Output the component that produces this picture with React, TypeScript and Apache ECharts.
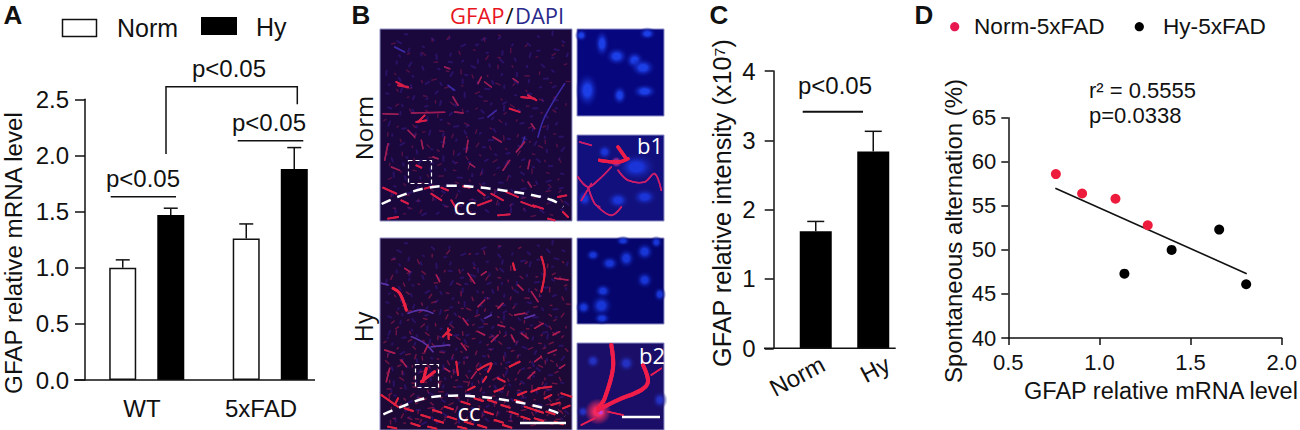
import React, { useEffect, useRef } from "react";
import * as echarts from "echarts";

// Panel A
const groupsA = ["WT", "5xFAD"];
const normA = [1.0, 1.26];
const hyA = [1.47, 1.88];
const normATop = [1.07, 1.39];
const hyATop = [1.53, 2.07];
const ticksA = [0, 0.5, 1, 1.5, 2, 2.5];
// Panel C
const groupsC = ["Norm", "Hy"];
const valuesC = [1.69, 2.84];
const topsC = [1.83, 3.13];
// Panel D
const normD = [[0.761, 58.6], [0.905, 56.4], [1.088, 55.8], [1.265, 52.8]];
const hyD = [[1.137, 47.3], [1.396, 50], [1.657, 52.3], [1.805, 46.1]];
const fitD = [[0.758, 57], [1.808, 47.3]];

const SANS = '"Liberation Sans", Arial, sans-serif';
const OPEN = '"Open Sans", sans-serif';

const txt = (text: string, x: number, y: number, size: number, o: any = {}) => ({
  type: "text",
  x,
  y,
  rotation: o.rotation || 0,
  silent: true,
  z: 20,
  style: {
    text,
    x: 0,
    y: 0,
    fill: o.fill || "#111",
    font: `${o.weight || "normal"} ${size}px ${o.family || SANS}`,
    textAlign: o.align || "center",
    textVerticalAlign: "middle",
  },
});
const ln = (pts: number[][], w = 1.5, color = "#111", extra: any = {}) => ({
  type: "polyline",
  silent: true,
  z: extra.z || 20,
  shape: { points: pts, smooth: extra.smooth || 0 },
  style: {
    stroke: color, lineWidth: w, fill: "none", lineDash: extra.dash, lineCap: extra.cap || "butt",
    opacity: extra.opacity ?? 1,
    ...(extra.blur ? { shadowBlur: extra.blur, shadowColor: color } : {}),
  },
});
const box = (x: number, y: number, w: number, h: number, fill: string, stroke = "#8f8fc8") => ({
  type: "rect",
  silent: true,
  z: 10,
  shape: { x, y, width: w, height: h },
  style: { fill, stroke, lineWidth: 1 },
});

// Micrograph illustration: hand-traced strokes, in 3x crop coordinates of each photo row
const toPx = (ox: number, oy: number, flat: number[]) => {
  const out: number[][] = [];
  for (let i = 0; i < flat.length; i += 2) out.push([ox + flat[i] / 3, oy + flat[i + 1] / 3]);
  return out;
};
const strokes = (ox: number, oy: number, list: number[][], w: number, color: string, opacity = 1, blur = 1.5) =>
  list.map((s) => ({ ...ln(toPx(ox, oy, s), w, color, { z: 12, cap: "round", smooth: s.length > 4 ? 0.35 : 0, opacity, blur }) }));
const nuclei = (ox: number, oy: number, list: number[][], core: string, bg: string) =>
  list.map(([x, y, rx, ry]) => ({
    type: "ellipse",
    silent: true,
    z: 11,
    shape: { cx: ox + x / 3, cy: oy + y / 3, rx: (rx / 3) * 2, ry: (ry / 3) * 2 },
    style: {
      fill: {
        type: "radial", x: 0.5, y: 0.5, r: 0.5,
        colorStops: [{ offset: 0, color: core }, { offset: 0.3, color: core }, { offset: 1, color: bg + "00" }],
      },
    },
  }));
// Faint tissue texture of the photos (decoration only, evenly spread low-discrepancy specks)
const specks = (x0: number, y0: number, w: number, h: number, n: number, bias: number, color: string, width: number, opacity: number, seed = 0) => {
  const out: any[] = [];
  for (let i = 1; i <= n; i++) {
    const u = (seed + i * 0.7548777) % 1;
    const v = Math.pow((seed + i * 0.5698403) % 1, bias);
    const a = i * i * 0.3719;
    const l = 1.5 + ((i * 7) % 4);
    const x = x0 + 5 + u * (w - 10);
    const y = y0 + 5 + v * (h - 10);
    out.push(ln([[x, y], [x + Math.cos(a) * l, y + Math.sin(a) * l]], width, color, { z: 11, cap: "round", opacity }));
  }
  return out;
};

const topStrong = [
  [60,175,90,180],[55,165,75,175],[430,210,470,215],[450,205,475,220],[120,285,140,265],[115,285,145,280],
  [395,245,425,255],[15,482,55,500],[140,485,165,478],[190,482,210,490],[255,478,275,482],[340,500,375,520],
  [300,535,340,520],[430,525,470,540],[465,535,495,545],[510,575,530,580],[540,510,565,505],[70,520,90,530],
  [360,565,395,562],[385,495,420,510],[160,500,190,520],[300,490,320,505],[220,520,235,545],[555,555,570,570],
  [115,415,130,422],[30,575,60,570],
];
const topFaint = [
  [260,185,290,185],[320,165,340,180],[345,330,370,345],[440,345,415,375],[270,340,265,375],[200,330,195,360],
  [90,310,110,330],[30,350,20,400],[225,210,240,235],[130,340,135,365],[460,290,470,305],[320,430,360,430],
  [375,430,395,400],[275,410,290,420],[450,465,460,480],[455,400,450,425],[230,255,255,258],[15,260,60,262],
  [100,258,200,256],[300,170,310,150],[405,155,420,165],[200,120,215,125],[40,420,65,430],[165,390,180,395],
];
const topBlue = [[480,330,500,270,560,170],[330,270,355,250],[210,175,230,190],[50,60,80,75],[135,565,200,565],[430,360,440,330]];
const botStrong = [
  [235,380,240,420],[300,405,340,385,330,410],[395,395,425,380],[315,440,325,425],[360,430,380,440],[480,460,520,455],
  [550,475,580,485],[10,480,60,515],[60,490,50,510],[490,65,500,110,490,170],[405,85,410,105],
  [205,295,220,300],[195,305,215,285],[210,280,212,312],
  [165,525,190,533],[200,515,225,523],[250,500,275,508],[290,490,315,498],[330,495,355,503],[370,510,395,518],
  [410,495,435,503],[440,515,465,523],[470,525,495,533],[130,540,155,548],[170,555,195,563],[210,545,235,553],
  [260,560,285,568],[320,530,345,538],[350,555,375,563],[395,530,420,538],[430,545,455,553],[470,550,495,558],
  [505,530,530,538],[530,560,555,568],[80,520,105,528],[100,565,125,573],[30,575,55,580],[150,575,175,581],
  [240,575,265,581],[300,570,325,578],[375,570,400,578],[420,480,445,470],[460,470,485,460],[500,490,520,480],
  [520,510,545,503],[555,520,575,512],[350,470,375,460],[270,465,290,455],
];
const botFaint = [
  [270,115,290,145],[300,215,320,195],[255,250,270,270],[360,270,380,275],[410,240,440,235],[300,290,320,300],
  [340,320,360,300],[410,320,400,300],[530,130,570,135],[460,170,480,200],[290,345,310,345],[200,400,215,410],
  [450,430,470,410],[545,400,560,390],[20,345,50,355],[35,400,25,440],[70,375,85,395],[140,350,150,330],
  [250,325,265,345],[470,280,495,265],[525,300,545,290],[510,355,535,345],[430,295,450,310],[360,220,375,205],
  [310,120,325,110],[175,120,185,140],[420,150,435,165],[80,100,95,110],[470,380,490,365],[280,430,295,410],
];
const botBlue = [[90,235,130,225,165,235],[100,305,140,325,165,350],[160,335,215,330],[10,145,30,150],[320,250,340,240],[440,250,470,240]];

const picture = (): any[] => [
  box(380, 29, 192, 192, "#1a083c"),
  box(577, 29, 87, 87, "#06067e"),
  box(577, 135, 87, 86, "#12107c"),
  box(380, 238, 192, 192, "#1c0936"),
  box(577, 238, 87, 86, "#05056c"),
  box(577, 343, 87, 87, "#1a0e68"),
  ...specks(380, 29, 192, 192, 200, 1, "#3a1a90", 2, 0.5),
  ...specks(380, 29, 192, 192, 160, 0.8, "#86184e", 1.4, 0.55, 0.37),
  ...specks(380, 238, 192, 192, 240, 1, "#3a1a90", 2, 0.5),
  ...specks(380, 238, 192, 192, 280, 0.65, "#a01a4c", 1.5, 0.6, 0.37),
  ...strokes(378, 27, topBlue, 1.4, "#3c2aa8", 0.8),
  ...strokes(378, 27, topFaint, 1.5, "#a01f56", 0.85),
  ...strokes(378, 27, topStrong, 1.8, "#d81f48"),
  ...strokes(378, 235, botBlue, 1.5, "#5a32a8", 0.85),
  ...strokes(378, 235, botFaint, 1.5, "#b01f52", 0.85),
  ...strokes(378, 235, botStrong, 1.9, "#e0203f"),
  ...strokes(378, 235, [[45,160,65,175,85,225],[130,440,170,410],[135,440,145,400]], 2.8, "#ee2244"),
  ...nuclei(378, 27, [[672,50,12,22],[716,88,18,15],[770,100,15,15],[795,122,20,15],[808,20,14,10],[628,190,18,28],[725,205,12,16],[800,193,20,12],[610,25,10,10]], "#1c3ee6", "#06067e"),
  ...nuclei(378, 27, [[775,420,32,22],[800,510,20,14],[620,515,12,14],[720,520,18,14],[680,375,12,12]], "#1a34d8", "#12107c"),
  ...nuclei(378, 235, [[645,60,12,10],[735,18,12,8],[745,70,14,16],[800,50,15,15],[835,22,10,10],[695,85,15,12],[800,135,14,14],[845,178,10,12],[675,168,14,12],[670,212,18,18],[617,217,12,12],[672,250,14,10]], "#1836d8", "#05056c"),
  ...nuclei(378, 235, [[645,378,12,12],[745,385,14,14],[845,495,12,14],[615,530,10,10]], "#2430c0", "#1a0e68"),
  ...strokes(378, 27, [[665,400,720,405,750,395],[720,360,745,395]], 3.4, "#ee1f48"),
  ...strokes(378, 27, [[700,420,660,460,630,480,600,450],[630,480,650,530,665,540],[720,430,750,460,800,465,830,440,850,490],[640,470,610,520],[660,540,700,565,730,540],[605,345,640,355]], 1.6, "#cc1f6a"),
  ...nuclei(378, 27, [[715,405,8,8]], "#a040e0", "#ee1f48"),
  ...strokes(378, 235, [[700,330,705,400,680,490,660,520],[660,525,720,495,790,465,810,440,795,390]], 4, "#f01c48"),
  ...strokes(378, 235, [[640,500,700,500],[690,530,735,540],[660,530,700,505],[610,570,650,550],[820,420,850,400]], 1.6, "#e81f52"),
  ...nuclei(378, 235, [[660,530,20,20]], "#f02a60", "#f02a60"),
  ...nuclei(378, 235, [[668,532,6,6]], "#c040e0", "#f02a60"),
  // dashed outlines and scale bars
  { ...ln(toPx(345, 0, [110,612,160,590,240,565,320,557,400,562,480,572,560,585,620,600,655,620]), 2.5, "#fff", { dash: [10, 7], smooth: 0.4, z: 15 }) },
  { ...ln(toPx(345, 0, [115,1243,170,1220,240,1195,320,1187,400,1190,480,1200,560,1215,620,1232,660,1248]), 2.5, "#fff", { dash: [10, 7], smooth: 0.4, z: 15 }) },
  { type: "rect", silent: true, z: 15, shape: { x: 408.5, y: 160.5, width: 23, height: 23 }, style: { fill: "none", stroke: "#fff", lineWidth: 1.2, lineDash: [4, 3] } },
  { type: "rect", silent: true, z: 15, shape: { x: 415.5, y: 364.5, width: 23, height: 23 }, style: { fill: "none", stroke: "#fff", lineWidth: 1.2, lineDash: [4, 3] } },
  ln([[520, 423], [566, 423]], 2.5, "#fff", { z: 15 }),
  ln([[622, 417], [660, 417]], 2.5, "#fff", { z: 15 }),
  txt("cc", 465, 205, 24, { fill: "#fff", family: OPEN }),
  txt("cc", 469, 411, 24, { fill: "#fff", family: OPEN }),
  txt("b1", 650, 145, 22, { fill: "#fff", family: OPEN }),
  txt("b2", 652, 355, 22, { fill: "#fff", family: OPEN }),
  txt("Norm", 363, 128, 24, { rotation: Math.PI / 2, family: OPEN }),
  txt("Hy", 363, 327, 25, { rotation: Math.PI / 2, family: OPEN }),
  txt("GFAP", 450, 15, 22, { align: "left", family: OPEN, fill: "#e8141e" }),
  txt("/", 505.5, 15, 22, { align: "left", family: OPEN }),
  txt("DAPI", 515, 15, 22, { align: "left", family: OPEN, fill: "#2a2a8c" }),
];

const annotations = (): any[] => [
  txt("A", 13, 15, 26, { weight: "bold" }),
  txt("B", 361, 15, 26, { weight: "bold" }),
  txt("C", 719, 15, 26, { weight: "bold" }),
  txt("D", 924, 15, 26, { weight: "bold" }),
  // Panel A legend, titles, brackets
  { type: "rect", silent: true, shape: { x: 62.5, y: 19.5, width: 34, height: 17 }, style: { fill: "#fff", stroke: "#111", lineWidth: 1.5 } },
  { type: "rect", silent: true, shape: { x: 201, y: 17, width: 36, height: 18 }, style: { fill: "#000" } },
  txt("Norm", 117, 28, 25, { align: "left" }),
  txt("Hy", 256, 27, 25, { align: "left" }),
  txt("GFAP relative mRNA level", 13, 253, 24.2, { rotation: Math.PI / 2 }),
  txt("p<0.05", 229, 68, 24),
  txt("p<0.05", 269, 122, 24),
  txt("p<0.05", 143, 178, 24),
  ln([[110.7, 196.7], [176, 196.7]]),
  ln([[237.7, 140.7], [303.3, 140.7]]),
  ln([[166, 154], [166, 86.7], [297.3, 86.7], [297.3, 104.3]]),
  ln([[74, 380], [315, 380]]),
  // Panel C
  txt("GFAP relative intensity (x10⁷)", 722, 203, 25.2, { rotation: Math.PI / 2 }),
  txt("p<0.05", 835, 85, 24),
  ln([[802.7, 111.7], [863, 111.7]], 2),
  ln([[764, 348.3], [895.7, 348.3]]),
  // Panel D
  { type: "circle", silent: true, shape: { cx: 954.7, cy: 26.7, r: 4.6 }, style: { fill: "#e8174f" } },
  { type: "circle", silent: true, shape: { cx: 1139.3, cy: 26.7, r: 4.6 }, style: { fill: "#000" } },
  txt("Norm-5xFAD", 974, 26.7, 22.6, { align: "left" }),
  txt("Hy-5xFAD", 1163, 26.7, 22.6, { align: "left" }),
  txt("r² = 0.5555", 1089, 90, 22, { align: "left" }),
  txt("p=0.0338", 1089, 115, 22, { align: "left" }),
  txt("Spontaneous alternation (%)", 953, 231, 24, { rotation: Math.PI / 2 }),
  txt("GFAP relative mRNA level", 1161, 390.7, 23.5),
];

const errorSeries = (xi: number, yi: number, cats: number[], means: number[], tops: number[], offset: number, cap: number): any => ({
  type: "custom",
  xAxisIndex: xi,
  yAxisIndex: yi,
  silent: true,
  z: 5,
  encode: { x: 0, y: [1, 2] },
  data: cats.map((c, i) => [c, means[i], tops[i]]),
  renderItem: (_: any, api: any) => {
    const a = api.coord([api.value(0), api.value(1)]);
    const b = api.coord([api.value(0), api.value(2)]);
    const x = a[0] + offset;
    const style = { stroke: "#111", lineWidth: 1.5, fill: "none" };
    return {
      type: "group",
      children: [
        { type: "line", shape: { x1: x, y1: a[1], x2: x, y2: b[1] }, style },
        { type: "line", shape: { x1: x - cap / 2, y1: b[1], x2: x + cap / 2, y2: b[1] }, style },
      ],
    };
  },
});

const axisStyle = { lineStyle: { color: "#111", width: 1.5 } };

export default function App() {
  const ref = useRef<HTMLDivElement>(null);
  useEffect(() => {
    const chart = echarts.init(ref.current!, undefined, { renderer: "svg" });
    chart.setOption({
      animation: false,
      backgroundColor: "#fff",
      textStyle: { fontFamily: SANS },
      grid: [
        { left: 85, top: 99.3, width: 247, height: 280.7 },
        { left: 82.5, top: 99.3, width: 238, height: 280.7 },
        { left: 787, top: 71, width: 115, height: 277.3 },
        { left: 790.5, top: 71, width: 130, height: 277.3 },
        { left: 1008.3, top: 117.7, width: 275.7, height: 220.3 },
      ],
      xAxis: [
        { gridIndex: 0, type: "category", data: groupsA, axisLine: { show: false }, axisTick: { show: false }, axisLabel: { show: false } },
        { gridIndex: 1, type: "category", data: groupsA, axisLine: { show: false }, axisTick: { show: false },
          axisLabel: { color: "#111", fontSize: 24, margin: 16, fontFamily: SANS } },
        { gridIndex: 2, type: "category", data: groupsC, axisLine: { show: false }, axisTick: { show: false }, axisLabel: { show: false } },
        { gridIndex: 3, type: "category", data: groupsC, axisLine: { show: false }, axisTick: { show: false },
          axisLabel: { color: "#111", fontSize: 24, margin: 14, rotate: 28, interval: 0, hideOverlap: false, fontFamily: SANS } },
        { gridIndex: 4, type: "value", min: 0.5, max: 2, interval: 0.5, axisLine: axisStyle, splitLine: { show: false },
          axisTick: { length: 7, lineStyle: axisStyle.lineStyle },
          axisLabel: { color: "#111", fontSize: 22, margin: 13, fontFamily: SANS, formatter: (v: number) => v.toFixed(1) } },
      ],
      yAxis: [
        { gridIndex: 0, type: "value", min: 0, max: ticksA[ticksA.length - 1], interval: 0.5, axisLine: { show: true, ...axisStyle }, splitLine: { show: false },
          axisTick: { show: true, length: 10, lineStyle: axisStyle.lineStyle },
          axisLabel: { color: "#111", fontSize: 24, margin: 16, fontFamily: SANS, formatter: (v: number) => v.toFixed(1) } },
        { gridIndex: 1, type: "value", min: 0, max: 2.5, show: false },
        { gridIndex: 2, type: "value", min: 0, max: 4, interval: 1, offset: 13.3, axisLine: { show: true, ...axisStyle }, splitLine: { show: false },
          axisTick: { show: true, length: 9, lineStyle: axisStyle.lineStyle },
          axisLabel: { color: "#111", fontSize: 24, margin: 18, fontFamily: SANS } },
        { gridIndex: 3, type: "value", min: 0, max: 4, show: false },
        { gridIndex: 4, type: "value", min: 40, max: 65, interval: 5, axisLine: { show: true, ...axisStyle }, splitLine: { show: false },
          axisTick: { show: true, length: 7, lineStyle: axisStyle.lineStyle },
          axisLabel: { color: "#111", fontSize: 22, margin: 12, fontFamily: SANS } },
      ],
      series: [
        { type: "bar", name: "Norm", xAxisIndex: 0, yAxisIndex: 0, data: normA, barWidth: 27, barGap: "78%", silent: true, z: 3,
          itemStyle: { color: "#fff", borderColor: "#111", borderWidth: 1.5 } },
        { type: "bar", name: "Hy", xAxisIndex: 0, yAxisIndex: 0, data: hyA, barWidth: 27, barGap: "78%", silent: true, z: 3,
          itemStyle: { color: "#000" } },
        errorSeries(0, 0, [0, 1], normA, normATop, -24, 14),
        errorSeries(0, 0, [0, 1], hyA, hyATop, 24, 14),
        { type: "bar", name: "Intensity", xAxisIndex: 2, yAxisIndex: 2, data: valuesC, barWidth: 32, silent: true, z: 3, itemStyle: { color: "#000" } },
        errorSeries(2, 2, [0, 1], valuesC, topsC, 0, 17),
        { type: "line", xAxisIndex: 4, yAxisIndex: 4, data: fitD, showSymbol: false, silent: true, z: 3, lineStyle: { color: "#111", width: 1.6 } },
        { type: "scatter", name: "Norm-5xFAD", xAxisIndex: 4, yAxisIndex: 4, data: normD, symbolSize: 10, silent: true, z: 4, itemStyle: { color: "#ee1c3c", opacity: 1 } },
        { type: "scatter", name: "Hy-5xFAD", xAxisIndex: 4, yAxisIndex: 4, data: hyD, symbolSize: 10, silent: true, z: 4, itemStyle: { color: "#000", opacity: 1 } },
      ],
      graphic: { elements: [...picture(), ...annotations()] },
    });
    return () => chart.dispose();
  }, []);
  return <div ref={ref} style={{ position: "absolute", left: 0, top: 0, width: 1300, height: 430 }} />;
}
